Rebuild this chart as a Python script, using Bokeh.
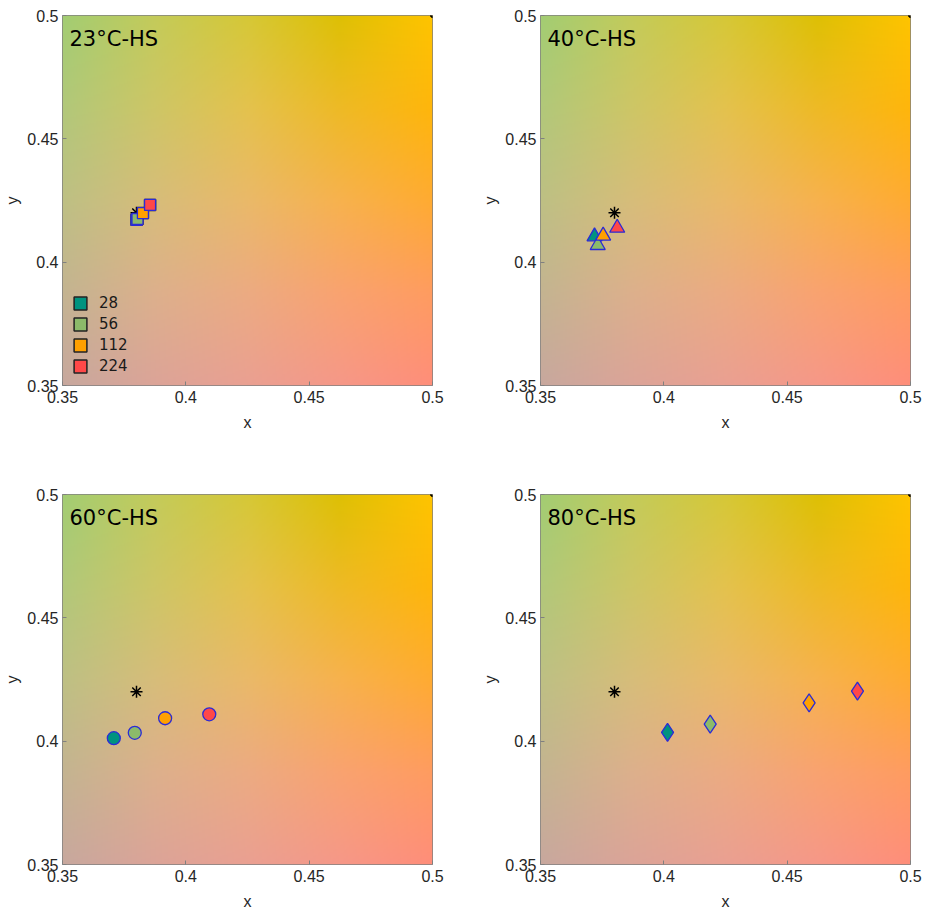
import numpy as np
from bokeh.plotting import figure
from bokeh.layouts import gridplot
from bokeh.models import Label, Legend, LegendItem, ColumnDataSource, FixedTicker
from bokeh.embed import file_html
from bokeh.resources import INLINE

# ---------------- data ----------------
panel_titles = ["23°C-HS", "40°C-HS", "60°C-HS", "80°C-HS"]
doses = ["28", "56", "112", "224"]
dose_colors = ["#00937f", "#8cba6a", "#ffa000", "#ff4848"]
marker_kinds = ["square", "triangle", "circle", "diamond"]

x_23 = [0.3800, 0.3804, 0.3826, 0.3855]
y_23 = [0.4172, 0.4175, 0.4199, 0.4232]
x_40 = [0.3719, 0.3732, 0.3754, 0.3811]
y_40 = [0.4104, 0.4069, 0.4107, 0.4139]
x_60 = [0.3708, 0.3793, 0.3916, 0.4095]
y_60 = [0.4012, 0.4034, 0.4093, 0.4109]
x_80 = [0.4015, 0.4188, 0.4589, 0.4785]
y_80 = [0.4036, 0.4069, 0.4155, 0.4203]

ref_x = [0.38]
ref_y = [0.42]
corner_x = [0.5]
corner_y = [0.5]

axis_min = 0.35
axis_max = 0.50
tick_values = [0.35, 0.40, 0.45, 0.50]
tick_labels = ["0.35", "0.4", "0.45", "0.5"]

series_x = [x_23, x_40, x_60, x_80]
series_y = [y_23, y_40, y_60, y_80]

# ---------------- background gradient (style) ----------------
grid_pts = np.linspace(axis_min, axis_max, 5)
# rows: y from bottom (0.35) to top (0.5); columns: x from left to right
bg_colors = np.array([
    [(200, 168, 158), (220, 164, 152), (234, 160, 146), (246, 152, 136), (255, 142, 122)],
    [(196, 180, 145), (221, 176, 140), (236, 171, 130), (249, 163, 112), (255, 156, 96)],
    [(190, 192, 132), (215, 189, 122), (234, 185, 105), (247, 178, 78), (255, 171, 50)],
    [(178, 200, 122), (206, 198, 102), (228, 194, 78), (238, 186, 38), (255, 182, 12)],
    [(163, 205, 115), (196, 203, 90), (214, 200, 55), (222, 192, 5), (255, 196, 0)],
], dtype=float)

N = 240
fine = np.linspace(axis_min, axis_max, N)
rows = np.empty((5, N, 3))
for j in range(5):
    for c in range(3):
        rows[j, :, c] = np.interp(fine, grid_pts, bg_colors[j, :, c])
img = np.empty((N, N, 3))
for i in range(N):
    for c in range(3):
        img[:, i, c] = np.interp(fine, grid_pts, rows[:, i, c])
rgba = np.empty((N, N), dtype=np.uint32)
view = rgba.view(dtype=np.uint8).reshape((N, N, 4))
view[:, :, 0] = img[:, :, 0].astype(np.uint8)
view[:, :, 1] = img[:, :, 1].astype(np.uint8)
view[:, :, 2] = img[:, :, 2].astype(np.uint8)
view[:, :, 3] = 255

label_overrides = {str(v): l for v, l in zip(tick_values, tick_labels)}

marker_sizes = {"square": 11, "triangle": 15, "circle": 13, "diamond": 18}


def make_panel(k):
    top = k < 2
    left = k % 2 == 0
    p = figure(
        frame_width=370, frame_height=370,
        x_range=(axis_min, axis_max), y_range=(axis_min, axis_max),
        output_backend="svg", toolbar_location=None,
        min_border_left=62, min_border_right=46 if left else 15,
        min_border_top=15, min_border_bottom=94 if top else 45,
        background_fill_color="white", border_fill_color="white",
    )
    p.image_rgba(image=[rgba], x=axis_min, y=axis_min,
                 dw=axis_max - axis_min, dh=axis_max - axis_min)
    p.outline_line_color = "#808080"
    p.outline_line_width = 1
    for ax in (p.xaxis[0], p.yaxis[0]):
        ax.ticker = FixedTicker(ticks=tick_values)
        ax.major_label_overrides = label_overrides
        ax.axis_line_color = None
        ax.major_tick_in = 4
        ax.major_tick_out = 0
        ax.major_tick_line_color = "#808080"
        ax.minor_tick_line_color = None
        ax.major_label_text_font = "Liberation Sans"
        ax.major_label_text_font_size = "16px"
        ax.major_label_text_color = "#262626"
        ax.axis_label_text_font = "Liberation Sans"
        ax.axis_label_text_font_size = "16px"
        ax.axis_label_text_font_style = "normal"
        ax.axis_label_text_color = "#262626"
        ax.major_label_standoff = 4
    p.yaxis.axis_label_standoff = 3
    p.xaxis.major_label_standoff = 5
    p.xaxis.axis_label_standoff = 8
    p.xaxis.axis_label = "x"
    p.yaxis.axis_label = "y"
    p.grid.grid_line_color = "black"
    p.grid.grid_line_alpha = 0.07

    # reference point
    p.scatter(ref_x, ref_y, marker="asterisk", size=12, line_color="black", line_width=1.5)
    p.scatter(corner_x, corner_y, marker="circle", size=4, fill_color="black", line_color="black")

    kind = marker_kinds[k]
    size = marker_sizes[kind]
    xs, ys = series_x[k], series_y[k]

    if k == 0:
        # legend entries (black outline), drawn under the blue-outlined points
        for i, (d, c) in enumerate(zip(doses, dose_colors)):
            r = p.scatter([xs[i]], [ys[i]], marker="square", size=size,
                          fill_color=c, line_color="#222222", line_width=1.5)
            leg = Legend(items=[LegendItem(label=d, renderers=[r])],
                         location=(2, 3 + 21 * (len(doses) - 1 - i)),
                         padding=0, margin=0, glyph_width=32, glyph_height=32,
                         label_standoff=3, label_height=18,
                         label_text_font="DejaVu Sans", label_text_font_size="15px",
                         label_text_color="#1a1a1a",
                         background_fill_alpha=0, border_line_color=None)
            p.add_layout(leg, "center")

    src = ColumnDataSource(data=dict(x=xs, y=ys, c=dose_colors))
    p.scatter("x", "y", source=src, marker=kind, size=size,
              fill_color="c", line_color="#2b2bd6", line_width=1.3)

    p.add_layout(Label(x=7, y=359, x_units="screen", y_units="screen",
                       text=panel_titles[k], text_font="DejaVu Sans", text_font_size="21px",
                       text_baseline="top", text_color="black"))
    return p


panels = [make_panel(k) for k in range(4)]
grid = gridplot([[panels[0], panels[1]], [panels[2], panels[3]]], toolbar_location=None)

open("out.html", "w").write(file_html(grid, INLINE))
